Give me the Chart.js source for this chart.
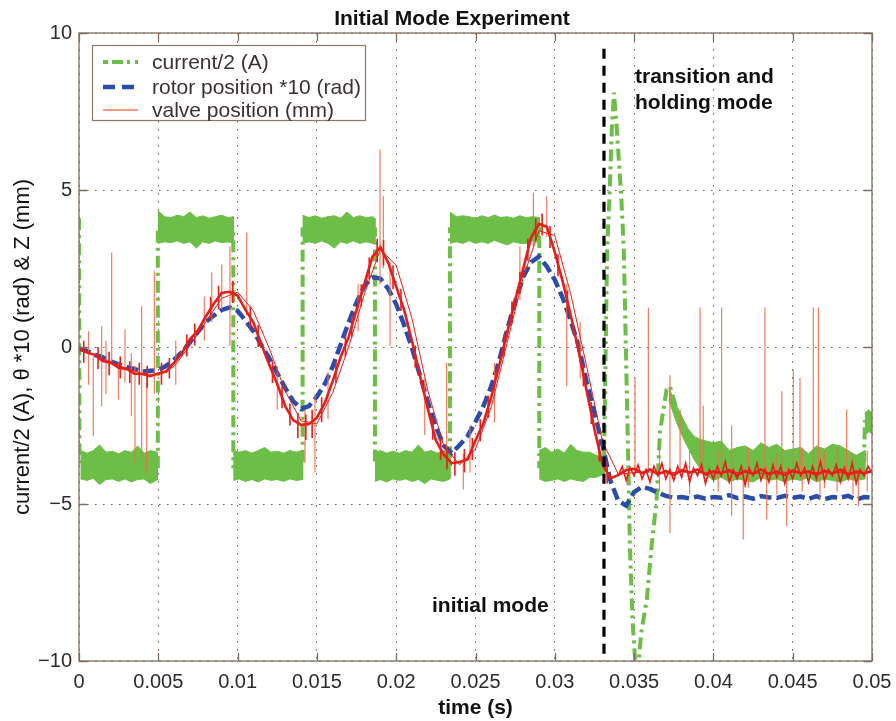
<!DOCTYPE html>
<html>
<head>
<meta charset="utf-8">
<script src="https://cdn.jsdelivr.net/npm/chart.js@4.4.1/dist/chart.umd.min.js"></script>
<style>
html,body{margin:0;padding:0;background:#fff;}
#wrap{width:896px;height:721px;position:relative;}
</style>
</head>
<body>
<div id="wrap"><canvas id="c" width="896" height="721"></canvas></div>
<script>
// ---------- tick values / labels ----------
const xTickValues = [0,0.005,0.01,0.015,0.02,0.025,0.03,0.035,0.04,0.045,0.05];
const xTickLabels = ['0','0.005','0.01','0.015','0.02','0.025','0.03','0.035','0.04','0.045','0.05'];
const yTickValues = [-10,-5,0,5,10];
const yTickLabels = ['\u221210','\u22125','0','5','10'];

// ---------- sample times (s) for rotor and valve ----------
const sampleT = [0,0.0005,0.001,0.0015,0.002,0.0025,0.003,0.0035,0.004,0.0045,0.005,0.0055,0.006,0.0065,0.007,0.0075,0.008,0.0085,0.009,0.0095,
0.01,0.0105,0.011,0.0115,0.012,0.0125,0.013,0.0135,0.014,0.0145,0.015,0.0155,0.016,0.0165,0.017,0.0175,0.018,0.0185,0.019,0.0195,
0.02,0.0205,0.021,0.0215,0.022,0.0225,0.023,0.0235,0.024,0.0245,0.025,0.0255,0.026,0.0265,0.027,0.0275,0.028,0.0285,0.029,0.0295,
0.03,0.0305,0.031,0.0315,0.032,0.0325,0.033,0.0335,0.034,0.0345,0.035,0.0355,0.036,0.0365,0.037,0.0375,0.038,0.0385,0.039,0.0395,
0.04,0.0405,0.041,0.0415,0.042,0.0425,0.043,0.0435,0.044,0.0445,0.045,0.0455,0.046,0.0465,0.047,0.0475,0.048,0.0485,0.049,0.0495,0.05];

// rotor position *10 (rad)
const rotorV = [-0.05,-0.12,-0.25,-0.33,-0.46,-0.55,-0.64,-0.70,-0.78,-0.76,-0.74,-0.60,-0.40,-0.16,0.16,0.48,0.80,1.00,1.18,1.26,
1.15,0.84,0.50,0.06,-0.36,-0.84,-1.30,-1.72,-1.97,-1.88,-1.58,-1.18,-0.62,0.08,0.78,1.42,1.95,2.22,2.18,1.85,
1.36,0.70,-0.04,-0.90,-1.76,-2.54,-3.14,-3.38,-3.12,-2.84,-2.38,-1.88,-1.24,-0.42,0.56,1.44,2.22,2.70,2.88,2.56,
2.14,1.56,0.84,0.04,-1.10,-2.10,-3.10,-4.25,-4.90,-5.05,-4.62,-4.45,-4.52,-4.64,-4.74,-4.80,-4.78,-4.82,-4.76,-4.83,
-4.78,-4.80,-4.72,-4.81,-4.76,-4.83,-4.75,-4.79,-4.81,-4.74,-4.80,-4.76,-4.84,-4.75,-4.85,-4.78,-4.80,-4.74,-4.86,-4.78,-4.80];

// valve position (mm), main trace
const valveV = [-0.05,-0.18,-0.25,-0.45,-0.50,-0.66,-0.70,-0.85,-0.86,-0.93,-0.84,-0.78,-0.50,-0.18,0.25,0.52,0.98,1.38,1.72,1.76,
1.64,1.18,0.78,0.08,-0.57,-1.18,-1.88,-2.33,-2.48,-2.45,-2.25,-1.78,-1.08,-0.32,0.32,1.18,2.02,2.88,3.18,2.68,
1.92,1.18,0.18,-0.92,-1.98,-2.97,-3.43,-3.70,-3.66,-3.58,-2.98,-2.42,-1.58,-0.57,0.47,1.48,2.47,3.48,3.92,3.83,
3.02,2.08,1.02,-0.12,-1.38,-2.62,-3.73,-4.18,-4.08,-3.92,-3.88,-4.02,-3.90,-4.05,-3.95,-4.08,-3.92,-4.00,-3.90,-4.06,
-3.96,-4.02,-3.92,-4.08,-3.95,-4.04,-3.90,-4.05,-3.97,-4.08,-3.93,-4.02,-3.96,-4.07,-3.94,-4.03,-3.91,-4.06,-3.97,-4.02,-3.95];

// valve position, fine-grained tail after the switch
const tailT = [0.034,0.03425,0.0345,0.03475,0.035,0.03525,0.0355,0.03575,0.036,0.03625,0.0365,0.03675,0.037,0.03725,0.0375,0.03775,
0.038,0.03825,0.0385,0.03875,0.039,0.03925,0.0395,0.03975,0.04,0.04025,0.0405,0.04075,0.041,0.04125,0.0415,0.04175,
0.042,0.04225,0.0425,0.04275,0.043,0.04325,0.0435,0.04375,0.044,0.04425,0.0445,0.04475,0.045,0.04525,0.0455,0.04575,
0.046,0.04625,0.0465,0.04675,0.047,0.04725,0.0475,0.04775,0.048,0.04825,0.0485,0.04875,0.049,0.04925,0.0495,0.04975,0.05];
const tailV = [-4.1,-3.8,-4.25,-3.85,-4.1,-3.75,-4.2,-3.9,-4.3,-3.8,-4.1,-3.7,-4.2,-3.9,-4.25,-3.8,
-4.15,-3.7,-4.3,-3.85,-4.1,-3.75,-4.35,-3.9,-4.2,-3.8,-4.1,-3.65,-4.3,-3.9,-4.2,-3.8,
-4.4,-3.85,-4.1,-3.7,-4.25,-3.9,-4.3,-3.75,-4.15,-3.8,-4.35,-3.9,-4.2,-3.7,-4.1,-3.85,
-4.3,-3.8,-4.2,-3.65,-4.25,-3.9,-4.1,-3.75,-4.3,-3.85,-4.2,-3.7,-4.35,-3.9,-4.1,-3.8,-4.0];

// valve position, short-scale jitter on the main trace: time, low, high
const jitterT  = [0.0003,0.0012,0.0019,0.0026,0.0032,0.0038,0.0043,0.0052,0.0057,0.0068,0.0073,0.0083,0.0088,0.0097,0.0108,0.0113,0.0122,0.0128,
0.0133,0.0138,0.0143,0.0147,0.0153,0.0162,0.0168,0.0172,0.0178,0.0183,0.0188,0.0192,0.0198,0.0203,0.0212,0.0223,0.0228,0.0232,
0.0237,0.0243,0.0248,0.0253,0.0258,0.0268,0.0273,0.0278,0.0283,0.0288,0.0292,0.0297,0.0302,0.0308,0.0318,0.0323,0.0328,0.0333];
const jitterLo = [-0.5,-0.7,-0.9,-1.0,-1.15,-1.2,-1.3,-1.2,-1.0,-0.3,0.05,0.9,1.2,1.4,0.6,0.0,-1.15,-1.95,
-2.5,-2.9,-2.95,-2.9,-2.4,-1.15,-0.3,0.3,1.3,2.15,2.7,2.6,1.85,1.15,-0.65,-2.95,-3.6,-3.9,
-4.1,-4.0,-3.6,-3.0,-2.25,-0.3,0.75,1.7,2.75,3.4,3.55,3.15,2.25,1.1,-1.25,-2.45,-3.65,-4.35];
const jitterHi = [0.2,0.0,-0.15,-0.3,-0.45,-0.5,-0.6,-0.5,-0.35,0.4,0.75,1.6,1.95,2.1,1.3,0.7,-0.45,-1.25,
-1.8,-2.1,-2.15,-2.0,-1.6,-0.45,0.4,1.0,2.0,2.85,3.45,3.4,2.6,1.85,0.05,-2.25,-2.9,-3.2,
-3.35,-3.25,-2.9,-2.3,-1.55,0.4,1.45,2.4,3.45,4.1,4.25,3.85,2.95,1.8,-0.55,-1.75,-2.95,-3.65];

// valve position, thin smooth trace
const smoothT = [0,0.001,0.002,0.003,0.004,0.005,0.006,0.007,0.008,0.009,0.01,0.011,0.012,0.013,0.014,0.015,0.016,0.017,0.018,0.019,
0.02,0.021,0.022,0.023,0.024,0.025,0.026,0.027,0.028,0.029,0.03,0.031,0.032,0.033,0.034,0.035,0.036,0.037,0.038,0.039,
0.04,0.041,0.042,0.043,0.044,0.045,0.046,0.047,0.048,0.049,0.05];
const smoothV = [-0.05,-0.25,-0.48,-0.68,-0.85,-0.88,-0.62,0.05,0.80,1.55,1.75,1.15,-0.05,-1.40,-2.35,-2.45,-1.45,0.00,1.70,3.10,
2.60,0.90,-1.40,-3.15,-3.75,-3.25,-1.90,0.15,2.20,3.70,3.55,1.70,-0.60,-3.00,-4.05,-4.00,-3.98,-4.02,-3.97,-4.00,
-4.01,-3.99,-4.00,-4.02,-3.98,-4.00,-4.01,-3.99,-4.00,-4.02,-3.98];

// valve position spikes: time, low end, high end
const spikeT  = [0.0006,0.0009,0.00143,0.0017,0.00206,0.00248,0.0029,0.0033,0.00353,0.00395,0.00427,0.00475,0.0061,0.0079,0.00837,0.009,0.00952,0.01057,0.0125,0.01425,
0.01488,0.0157,0.0176,0.01898,0.01919,0.01961,0.0218,0.02318,0.02423,0.02465,0.0262,0.0278,0.02865,0.02949,0.03075,0.0316,0.03506,0.0359,0.0366,0.03726,
0.0379,0.0385,0.03916,0.03936,0.0403,0.04052,0.04115,0.04188,0.0422,0.04325,0.04336,0.0440,0.04431,0.04462,0.04504,0.04546,0.0456,0.0463,0.04662,0.04672,
0.0470,0.0478,0.0484,0.0488,0.04914,0.0497];
const spikeLo = [-1.2,-2.84,-1.89,-1.5,-0.5,-1.67,-1.13,-2.2,-3.69,-3.58,-4.0,-1.5,-1.2,0.2,0.8,1.2,0.03,1.0,-2.0,-3.7,
-4.0,-2.3,0.5,2.0,2.5,0.03,-2.8,-3.3,-4.54,-4.0,-2.4,1.5,3.2,3.5,-1.25,-1.0,-4.0,-4.0,-4.6,-5.92,
-4.0,-4.7,-4.0,-4.0,-4.6,-4.0,-5.39,-6.13,-4.5,-4.0,-5.49,-4.7,-4.0,-5.71,-4.0,-4.0,-4.6,-4.0,-4.0,-4.86,
-4.5,-4.6,-4.0,-4.7,-5.07,-4.6];
const spikeHi = [0.5,-0.3,0.66,0.2,3.0,-0.5,0.56,-0.2,-0.6,1.3,-0.8,2.41,0.2,1.6,2.37,2.63,3.21,3.64,-0.6,-2.0,
-1.5,-0.8,2.0,6.29,4.8,2.7,-1.0,-0.5,-3.4,-2.5,-0.5,3.2,4.91,4.8,2.0,0.8,-0.98,1.26,-3.2,-0.9,
-2.0,-3.3,1.26,-1.87,-3.3,1.26,-2.5,-3.8,-3.2,1.26,-3.8,-3.4,-1.41,-3.9,-0.72,-0.98,-3.2,1.26,1.26,-3.9,
-3.3,-3.2,-1.99,-3.4,-3.9,-3.3];

// current/2 (A): main dash-dot trace
const currentT = [0,0.00003,0.00497,0.00497,0.00973,0.00973,0.0141,0.0141,0.01866,0.01866,
0.02339,0.02339,0.02902,0.02902,0.0331,0.0333,0.03345,0.0336,0.03373,0.0339,
0.0342,0.03435,0.03455,0.03474,0.0349,0.03506,0.0353,0.03545,0.03581,0.03611,
0.03642,0.03663,0.03705,0.03726,0.03769,0.03809,0.03852,0.03957,0.0405,0.0495,0.04955,0.05];
const currentV = [4.1,-3.8,-3.8,3.75,3.75,-3.8,-3.8,3.75,3.75,-3.8,
-3.8,3.75,3.75,-3.8,-3.8,3.1,4.8,7.0,8.1,7.0,
4.7,3.1,-1.7,-6.4,-8.7,-9.95,-9.95,-9.1,-8.0,-6.3,
-4.86,-2.7,-1.35,-1.25,-2.0,-2.6,-3.0,-3.26,-3.6,-3.6,-2.4,-2.4];

// current/2 (A): noise envelope of each flat stretch (times, upper edge, lower edge)
const bandT = [
 [0.0001,0.0005,0.0009,0.0013,0.0017,0.0021,0.0025,0.0029,0.0033,0.0037,0.0041,0.0045,0.00495],
 [0.00497,0.0054,0.0058,0.0062,0.0066,0.0070,0.0074,0.0078,0.0082,0.0086,0.0090,0.0094,0.00973],
 [0.00973,0.0101,0.0105,0.0109,0.0113,0.0117,0.0121,0.0125,0.0129,0.0133,0.0137,0.0141],
 [0.0141,0.0145,0.0149,0.0153,0.0157,0.0161,0.0165,0.0169,0.0173,0.0177,0.0181,0.0185,0.01866],
 [0.01866,0.0190,0.0194,0.0198,0.0202,0.0206,0.0210,0.0214,0.0218,0.0222,0.0226,0.0230,0.02339],
 [0.02339,0.0238,0.0242,0.0246,0.0250,0.0254,0.0258,0.0262,0.0266,0.0270,0.0274,0.0278,0.0282,0.0286,0.02902],
 [0.02902,0.0294,0.0298,0.0302,0.0306,0.0310,0.0314,0.0318,0.0322,0.0326,0.0331],
 [0.0372,0.0376,0.0380,0.0384,0.0388,0.0392,0.0396,0.0400,0.0405,0.0410,0.0415,0.0420,0.0425,0.0430,0.0435,0.0440,0.0445,0.0450,0.0455,0.0460,0.0465,0.0470,0.0475,0.0480,0.0485,0.0490,0.04955],
 [0.04955,0.0498,0.0500]
];
const bandTop = [
 [-3.3,-3.38,-3.3,-3.12,-3.35,-3.32,-3.4,-3.3,-3.35,-3.15,-3.38,-3.3,-3.35],
 [4.35,4.15,4.12,4.2,4.15,4.3,4.12,4.18,4.1,4.15,4.2,4.12,4.15],
 [-3.3,-3.35,-3.3,-3.38,-3.3,-3.2,-3.35,-3.32,-3.38,-3.3,-3.35,-3.3],
 [4.2,4.12,4.18,4.1,4.15,4.18,4.1,4.3,4.12,4.18,4.12,4.15,4.1],
 [-3.35,-3.3,-3.38,-3.32,-3.38,-3.3,-3.35,-3.12,-3.35,-3.3,-3.38,-3.3,-3.35],
 [4.3,4.15,4.18,4.15,4.1,4.18,4.12,4.2,4.12,4.15,4.1,4.18,4.12,4.15,4.12],
 [-3.3,-3.2,-3.35,-3.25,-3.38,-3.1,-3.3,-3.35,-3.35,-3.45,-3.5],
 [-1.3,-1.8,-2.2,-2.6,-2.85,-2.95,-3.0,-3.05,-3.0,-3.3,-3.2,-3.15,-3.3,-3.05,-3.2,-3.1,-3.3,-3.25,-3.2,-3.4,-3.15,-3.25,-3.1,-3.15,-3.3,-3.45,-3.3],
 [-2.1,-2.0,-2.1]
];
const bandBot = [
 [-4.2,-4.25,-4.18,-4.38,-4.22,-4.2,-4.28,-4.2,-4.3,-4.22,-4.2,-4.35,-4.22],
 [3.3,3.35,3.32,3.38,3.3,3.35,3.15,3.35,3.3,3.38,3.32,3.35,3.3],
 [-4.25,-4.2,-4.28,-4.22,-4.3,-4.2,-4.25,-4.22,-4.28,-4.2,-4.25,-4.22],
 [3.3,3.35,3.3,3.38,3.3,3.15,3.35,3.3,3.38,3.3,3.35,3.3,3.35],
 [-4.28,-4.22,-4.3,-4.2,-4.25,-4.2,-4.28,-4.22,-4.35,-4.2,-4.25,-4.28,-4.2],
 [3.3,3.35,3.3,3.38,3.3,3.35,3.3,3.4,3.32,3.25,3.35,3.3,3.3,3.38,3.32],
 [-4.2,-4.28,-4.25,-4.2,-4.28,-4.2,-4.25,-4.28,-4.15,-4.15,-4.05],
 [-1.7,-2.3,-2.8,-3.2,-3.6,-3.9,-4.1,-4.25,-4.15,-4.3,-4.2,-4.25,-4.3,-4.15,-4.25,-4.2,-4.3,-4.2,-4.25,-4.15,-4.3,-4.2,-4.25,-4.3,-4.2,-4.25,-4.2],
 [-2.8,-2.7,-2.75]
];

// mode-switch marker
const switchT = 0.0331;
const switchV = [9.5, -10];

// ---------- build library data ----------
const pts = (ts, vs) => ts.map((t, i) => ({x: t, y: vs[i]}));
const segs = (ts, lo, hi) => {
  const out = [];
  ts.forEach((t, i) => out.push({x: t, y: lo[i]}, {x: t, y: hi[i]}, {x: t, y: null}));
  return out;
};
const bandPts = [];
bandT.forEach((ts, k) => {
  ts.forEach((t, i) => bandPts.push({x: t, y: bandTop[k][i]}));
  for (let i = ts.length - 1; i >= 0; i--) bandPts.push({x: ts[i], y: bandBot[k][i]});
  bandPts.push({x: ts[ts.length - 1], y: null});
});

const GREEN = '#6cbe47', BLUE = '#2a4cab', RED = '#e61e1a', SALMON = '#f07a58';
const FONT = "'Liberation Sans', Arial, Helvetica, sans-serif";
const TXT = '#2e2a28';

const decor = {
  id: 'decor',
  afterDatasetsDraw(chart) {
    const {ctx, chartArea: a, scales: {x, y}} = chart;
    ctx.save();
    ctx.strokeStyle = '#7f6d5f';
    ctx.lineWidth = 1.3;
    ctx.setLineDash([]);
    ctx.strokeRect(a.left, a.top, a.right - a.left, a.bottom - a.top);
    ctx.beginPath();
    xTickValues.forEach(v => {
      const px = Math.round(x.getPixelForValue(v)) + 0.5;
      ctx.moveTo(px, a.bottom); ctx.lineTo(px, a.bottom - 8);
      ctx.moveTo(px, a.top); ctx.lineTo(px, a.top + 8);
    });
    yTickValues.forEach(v => {
      const py = Math.round(y.getPixelForValue(v)) + 0.5;
      ctx.moveTo(a.left, py); ctx.lineTo(a.left + 8, py);
      ctx.moveTo(a.right, py); ctx.lineTo(a.right - 8, py);
    });
    ctx.stroke();

    ctx.fillStyle = '#111';
    ctx.font = 'bold 21px ' + FONT;
    ctx.textAlign = 'center';
    ctx.textBaseline = 'middle';
    ctx.fillText('Initial Mode Experiment', 452, 19);

    ctx.textAlign = 'left';
    ctx.fillText('transition and', 635, 77);
    ctx.fillText('holding mode', 635, 103);
    ctx.fillText('initial mode', 432, 606);

    const lx = a.left + 13, ly = a.top + 12, lw = 273, lh = 75;
    ctx.fillStyle = '#fff';
    ctx.fillRect(lx, ly, lw, lh);
    ctx.strokeStyle = '#8a786a';
    ctx.lineWidth = 1.2;
    ctx.strokeRect(lx + 0.5, ly + 0.5, lw, lh);
    const rows = [
      {label: 'current/2 (A)', color: GREEN, width: 4, dash: [5,4,11,4,3,5,3,40], y: ly + 17},
      {label: 'rotor position *10 (rad)', color: BLUE, width: 4.5, dash: [12,7], y: ly + 42},
      {label: 'valve position (mm)', color: SALMON, width: 1.6, dash: [], y: ly + 65}
    ];
    rows.forEach(r => {
      ctx.beginPath();
      ctx.strokeStyle = r.color;
      ctx.lineWidth = r.width;
      ctx.setLineDash(r.dash);
      ctx.moveTo(lx + 11, r.y);
      ctx.lineTo(lx + 46, r.y);
      ctx.stroke();
      ctx.setLineDash([]);
      ctx.fillStyle = '#3a3230';
      ctx.font = '21px ' + FONT;
      ctx.textBaseline = 'middle';
      ctx.fillText(r.label, lx + 60, r.y + 1);
    });
    ctx.restore();
  }
};

new Chart(document.getElementById('c'), {
  type: 'scatter',
  data: {
    datasets: [
      {label: 'switch', data: [{x: switchT, y: switchV[0]}, {x: switchT, y: switchV[1]}],
       showLine: true, borderColor: '#000', borderWidth: 3.2, borderDash: [10, 7], pointRadius: 0, order: -1},
      {label: 'valve smooth', data: pts(smoothT, smoothV), showLine: true,
       borderColor: RED, borderWidth: 1, pointRadius: 0, order: 0},
      {label: 'valve trace', data: pts(sampleT, valveV), showLine: true,
       borderColor: RED, borderWidth: 2.6, pointRadius: 0, order: 1},
      {label: 'valve tail', data: pts(tailT, tailV), showLine: true,
       borderColor: RED, borderWidth: 1.6, pointRadius: 0, order: 1},
      {label: 'valve jitter', data: segs(jitterT, jitterLo, jitterHi), showLine: true, spanGaps: false,
       borderColor: RED, borderWidth: 1.6, pointRadius: 0, order: 1},
      {label: 'valve position (mm)', data: segs(spikeT, spikeLo, spikeHi), showLine: true, spanGaps: false,
       borderColor: 'rgba(240,110,75,0.9)', borderWidth: 1.2, pointRadius: 0, order: 2},
      {label: 'rotor position *10 (rad)', data: pts(sampleT, rotorV), showLine: true,
       borderColor: BLUE, borderWidth: 4.5, borderDash: [12, 5], pointRadius: 0, order: 3},
      {label: 'current/2 (A)', data: pts(currentT, currentV), showLine: true,
       borderColor: GREEN, borderWidth: 4, borderDash: [12, 5, 3, 5], pointRadius: 0, order: 4},
      {label: 'current band', data: bandPts, showLine: true, spanGaps: false,
       borderColor: GREEN, borderWidth: 1, backgroundColor: GREEN, fill: 'shape', pointRadius: 0, order: 5}
    ]
  },
  options: {
    responsive: false,
    animation: false,
    devicePixelRatio: 1,
    layout: {padding: {left: 0, right: 24, top: 33, bottom: 0}},
    plugins: {legend: {display: false}, title: {display: false}, tooltip: {enabled: false}},
    elements: {line: {tension: 0}},
    scales: {
      x: {
        type: 'linear', min: 0, max: 0.05,
        afterBuildTicks: s => { s.ticks = xTickValues.map(v => ({value: v})); },
        afterFit: s => { s.height = 60; s.paddingLeft = 0; s.paddingRight = 0; },
        ticks: {callback: (v, i) => xTickLabels[i], color: TXT, font: {size: 20, family: FONT}, padding: 9, maxRotation: 0, autoSkip: false},
        grid: {color: '#6e5f55', lineWidth: 1, drawTicks: false},
        border: {display: false, dash: [1.6, 6.4]},
        title: {display: true, text: 'time (s)', color: '#111', font: {size: 21, family: FONT, weight: 'bold'}, padding: {top: 0, bottom: 0}}
      },
      y: {
        type: 'linear', min: -10, max: 10,
        afterBuildTicks: s => { s.ticks = yTickValues.map(v => ({value: v})); },
        afterFit: s => { s.width = 79; s.paddingTop = 0; s.paddingBottom = 0; },
        ticks: {callback: (v, i) => yTickLabels[i], color: TXT, font: {size: 20, family: FONT}, padding: 7},
        grid: {color: '#6e5f55', lineWidth: 1, drawTicks: false},
        border: {display: false, dash: [1.6, 6.4]},
        title: {display: true, text: 'current/2 (A), \u03b8 *10 (rad) & Z (mm)', color: '#111', font: {size: 22, family: FONT}, padding: {top: 10, bottom: 0}}
      }
    }
  },
  plugins: [decor]
});
</script>
</body>
</html>
